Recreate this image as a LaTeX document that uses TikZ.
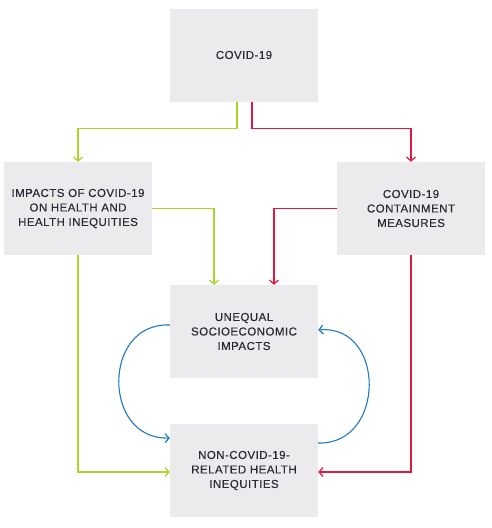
\documentclass[tikz,border=0pt]{standalone}
\usepackage{fontspec}
\setmainfont[LetterSpace=4,FakeBold=0.4]{Liberation Sans}
\usetikzlibrary{arrows.meta}
\definecolor{boxgray}{HTML}{EBEBED}
\definecolor{lime}{HTML}{A8D62A}
\definecolor{crim}{HTML}{E4173F}
\definecolor{bluec}{HTML}{2079C2}
\definecolor{txt}{HTML}{2B2B38}
\begin{document}
\begin{tikzpicture}[x=1pt,y=-1pt,
  box/.style={fill=boxgray,minimum width=148pt,minimum height=93pt,inner sep=0pt,
    align=center,text=txt,font=\fontsize{11.5}{14.5}\selectfont},
  tip/.style={-{Straight Barb[length=4pt,width=9pt,line width=1.2pt]}},
  gl/.style={draw=lime,line width=1.3pt,tip},
  rl/.style={draw=crim,line width=1.3pt,tip},
  bl/.style={draw=bluec,line width=1.1pt,tip}]
\useasboundingbox (0,0) rectangle (491,528);
\node[box] (covid) at (244,55) {COVID-19};
\node[box] (impacts) at (78,208.5) {IMPACTS OF COVID-19\\ON HEALTH AND\\HEALTH INEQUITIES};
\node[box] (contain) at (411,208.5) {COVID-19\\CONTAINMENT\\MEASURES};
\node[box] (unequal) at (244,331.5) {UNEQUAL\\SOCIOECONOMIC\\IMPACTS};
\node[box] (noncovid) at (244,470.5) {NON-COVID-19-\\RELATED HEALTH\\INEQUITIES};
\draw[gl] ([xshift=-7pt]covid.south) -- ++(0,27) -| (impacts.north);
\draw[rl] ([xshift=8pt]covid.south) -- ++(0,27) -| (contain.north);
\draw[gl] (impacts.east) -| ([xshift=-30pt]unequal.north);
\draw[rl] (contain.west) -| ([xshift=30pt]unequal.north);
\draw[gl] (impacts.south) |- ([yshift=-1.5pt]noncovid.west);
\draw[rl] (contain.south) |- ([yshift=-1.5pt]noncovid.east);
\draw[bl] ([yshift=6.5pt]unequal.west) .. controls (102,322) and (102,440) .. ([yshift=32.5pt]noncovid.west);
\draw[bl] ([yshift=27.5pt]noncovid.east) .. controls (386,445) and (386,324) .. ([yshift=1.5pt]unequal.east);
\end{tikzpicture}
\end{document}
